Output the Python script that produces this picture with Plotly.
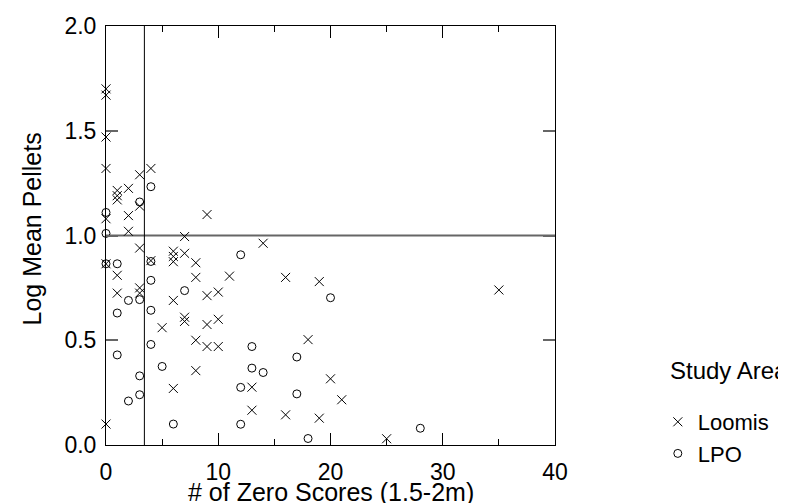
import plotly.graph_objects as go

# Loomis (x markers)
loomis_x = [0, 0, 0, 0, 0, 0, 0,
            1, 1, 1, 1, 1,
            2, 2, 2,
            3, 3, 3, 3, 3,
            4, 4,
            5,
            6, 6, 6, 6, 6,
            7, 7, 7, 7,
            8, 8, 8, 8,
            9, 9, 9, 9,
            10, 10, 10,
            11,
            13, 13,
            14,
            16, 16,
            18,
            19, 19,
            20, 21, 25, 35]
loomis_y = [1.70, 1.67, 1.47, 1.32, 1.08, 0.865, 0.10,
            1.215, 1.19, 1.17, 0.81, 0.725,
            1.225, 1.095, 1.02,
            1.29, 1.14, 0.94, 0.75, 0.725,
            1.32, 0.88,
            0.56,
            0.925, 0.90, 0.875, 0.69, 0.27,
            0.995, 0.915, 0.61, 0.59,
            0.87, 0.80, 0.50, 0.355,
            1.10, 0.713, 0.575, 0.47,
            0.73, 0.60, 0.47,
            0.806,
            0.276, 0.166,
            0.963,
            0.80, 0.144,
            0.503,
            0.78, 0.128,
            0.316, 0.216, 0.03, 0.74]

# LPO (circle markers)
lpo_x = [0, 0, 0,
         1, 1, 1,
         2, 2,
         3, 3, 3, 3,
         4, 4, 4, 4, 4,
         5, 6, 7,
         12, 12, 12,
         13, 13, 14,
         17, 17, 18, 20, 28]
lpo_y = [1.11, 1.01, 0.865,
         0.865, 0.63, 0.43,
         0.69, 0.21,
         1.16, 0.694, 0.33, 0.24,
         1.233, 0.876, 0.786, 0.643, 0.48,
         0.375, 0.10, 0.737,
         0.908, 0.275, 0.099,
         0.47, 0.367, 0.346,
         0.42, 0.244, 0.031, 0.703, 0.08]

ref_x = 3.42   # vertical reference line
ref_y = 1.0    # horizontal reference line

x_ticks = [0, 10, 20, 30, 40]
y_ticks = [0.0, 0.5, 1.0, 1.5, 2.0]
y_tick_labels = ["0.0", "0.5", "1.0", "1.5", "2.0"]

x_title = "# of Zero Scores (1.5-2m)"
y_title = "Log Mean Pellets"
legend_title = "Study Area"

FONT = "Liberation Sans, Arial, sans-serif"

fig = go.Figure()
fig.add_trace(go.Scatter(
    x=loomis_x, y=loomis_y, mode="markers", name="Loomis",
    marker=dict(symbol="x-thin-open", size=9, color="black",
                line=dict(color="black", width=1)),
    cliponaxis=False))
fig.add_trace(go.Scatter(
    x=lpo_x, y=lpo_y, mode="markers", name="LPO",
    marker=dict(symbol="circle-open", size=8, color="black",
                line=dict(color="black", width=1)),
    cliponaxis=False))

fig.add_hline(y=ref_y, line=dict(color="#666666", width=2), layer="below")
fig.add_vline(x=ref_x, line=dict(color="black", width=1), layer="below")

fig.update_layout(
    width=786, height=503,
    margin=dict(l=98, r=239, t=18, b=66),
    paper_bgcolor="white", plot_bgcolor="white",
    font=dict(family=FONT, size=22, color="black"),
    showlegend=True,
    legend=dict(
        x=1.229, y=0.105, xanchor="left", yanchor="top",
        font=dict(size=22), itemwidth=30,
        bgcolor="rgba(0,0,0,0)", tracegroupgap=0),
    annotations=[
        dict(text=legend_title, xref="paper", yref="paper", x=1.252, y=0.177,
             xanchor="left", yanchor="middle", showarrow=False,
             font=dict(size=24)),
        dict(text=x_title, xref="paper", yref="paper", x=0.5, y=0,
             xanchor="center", yanchor="middle", yshift=-47, showarrow=False,
             font=dict(size=25)),
        dict(text=y_title, xref="paper", yref="paper", x=0, y=0.5,
             xanchor="center", yanchor="middle", xshift=-75, yshift=6,
             textangle=-90, showarrow=False, font=dict(size=25)),
    ],
)
fig.update_xaxes(
    range=[0, 40], tickvals=x_ticks, showgrid=False, zeroline=False,
    showline=True, linecolor="black", linewidth=1, mirror="ticks",
    ticks="inside", ticklen=12, tickcolor="black", tickwidth=1,
    minor=dict(dtick=5, ticks="inside", ticklen=6, tickcolor="black", showgrid=False),
    tickfont=dict(size=23), ticklabelstandoff=6, automargin=False,
)
fig.update_yaxes(
    range=[0, 2], tickvals=y_ticks, ticktext=y_tick_labels, showgrid=False,
    zeroline=False, showline=True, linecolor="black", linewidth=1, mirror="ticks",
    ticks="inside", ticklen=12, tickcolor="#666666", tickwidth=2,
    tickfont=dict(size=23), ticklabelstandoff=4, automargin=False,
)

fig.write_html("out.html")
